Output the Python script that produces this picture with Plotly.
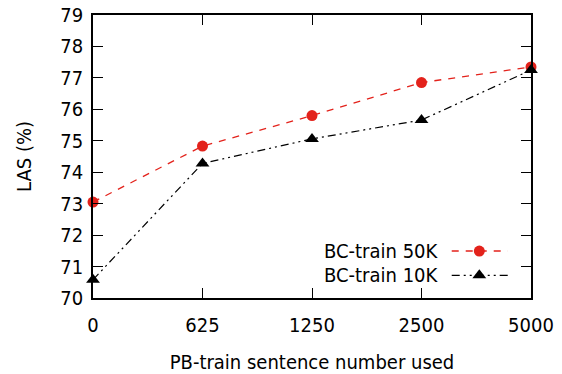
import plotly.graph_objects as go

categories = ["0", "625", "1250", "2500", "5000"]
bc50k = [73.05, 74.83, 75.80, 76.85, 77.35]
bc10k = [70.58, 74.28, 75.06, 75.66, 77.25]
series_names = ["BC-train 50K", "BC-train 10K"]
y_ticks = list(range(70, 80))

FONT = "DejaVu Sans Condensed, DejaVu Sans, Liberation Sans, sans-serif"
RED = "#e3221b"
BLACK = "#000000"
RED_DASH = "7px,7px"
BLACK_DASH = "8px,4px,2px,4px,2px,4px"

x_idx = list(range(len(categories)))

fig = go.Figure()
fig.add_trace(go.Scatter(
    x=x_idx, y=bc50k, mode="lines+markers", name=series_names[0],
    line=dict(color=RED, width=1.3, dash=RED_DASH),
    marker=dict(symbol="circle", size=11, color=RED),
    cliponaxis=False, showlegend=False,
))
fig.add_trace(go.Scatter(
    x=x_idx, y=bc10k, mode="lines+markers", name=series_names[1],
    line=dict(color=BLACK, width=1.2, dash=BLACK_DASH),
    marker=dict(symbol="triangle-up", size=12, color=BLACK),
    cliponaxis=False, showlegend=False,
))

# gnuplot-style key: text on the left, sample on the right (drawn on an overlay axis)
key_rows = [0.166, 0.080]
key_x0, key_x1, key_xm = 0.819, 0.947, 0.882
styles = [
    (RED, RED_DASH, "circle", 1.3, 11),
    (BLACK, BLACK_DASH, "triangle-up", 1.2, 12),
]
for name, yk, (col, dash, sym, w, ms) in zip(series_names, key_rows, styles):
    fig.add_trace(go.Scatter(
        x=[key_x0, key_x1], y=[yk, yk], mode="lines",
        line=dict(color=col, width=w, dash=dash),
        xaxis="x2", yaxis="y2", showlegend=False, hoverinfo="skip",
    ))
    fig.add_trace(go.Scatter(
        x=[key_xm], y=[yk], mode="markers",
        marker=dict(symbol=sym, size=ms, color=col),
        xaxis="x2", yaxis="y2", showlegend=False, hoverinfo="skip",
        cliponaxis=False,
    ))
    fig.add_annotation(
        x=0.794, y=yk, xref="x2", yref="y2", text=name, showarrow=False,
        xanchor="right", yanchor="middle",
        font=dict(family=FONT, size=20, color="black"),
    )

axis_common = dict(
    showline=True, linecolor="black", linewidth=1.6, mirror="allticks",
    ticks="inside", ticklen=10, tickwidth=1.1, tickcolor="black",
    showgrid=False, zeroline=False, automargin=False,
    tickfont=dict(family=FONT, size=20, color="black"),
)

fig.update_layout(
    width=562, height=374,
    margin=dict(l=93, r=31, t=15, b=76),
    paper_bgcolor="white", plot_bgcolor="white",
    xaxis=dict(
        **axis_common,
        range=[0, len(categories) - 1],
        tickvals=x_idx, ticktext=categories,
        ticklabelstandoff=8,
        title=dict(text="PB-train sentence number used",
                   font=dict(family=FONT, size=20, color="black"), standoff=19),
    ),
    yaxis=dict(
        **axis_common,
        range=[70, 79],
        tickvals=y_ticks, ticktext=[str(v) for v in y_ticks],
        ticklabelstandoff=4,
        title=dict(text="LAS (%)",
                   font=dict(family=FONT, size=20, color="black"), standoff=23),
    ),
    xaxis2=dict(overlaying="x", range=[0, 1], visible=False, fixedrange=True),
    yaxis2=dict(overlaying="y", range=[0, 1], visible=False, fixedrange=True),
    showlegend=False,
)

fig.write_html("out.html")
